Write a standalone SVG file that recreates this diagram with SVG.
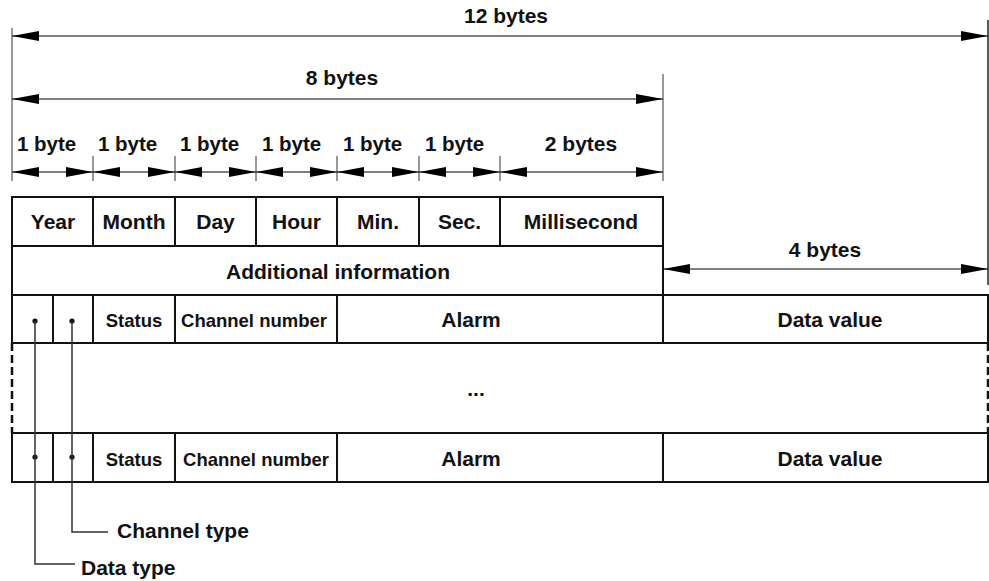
<svg xmlns="http://www.w3.org/2000/svg" width="989" height="581" viewBox="0 0 989 581">
<defs>
<marker id="ah" viewBox="0 0 27 10" refX="27" refY="5" markerWidth="27" markerHeight="10" markerUnits="userSpaceOnUse" orient="auto-start-reverse">
<path d="M0,0 L27,5 L0,10 z" fill="#000"/>
</marker>
</defs>
<style>
text{font-family:"Liberation Sans",Arial,sans-serif;font-weight:bold;fill:#111;}
.t20{font-size:21px;text-anchor:middle;}
.t18{font-size:18.5px;text-anchor:middle;}
.lbl{font-size:20.5px;}
.cell{fill:#fff;stroke:#111;stroke-width:2;}
.dim{stroke:#000;stroke-width:1.2;fill:none;marker-start:url(#ah);marker-end:url(#ah);}
.ext{stroke:#777;stroke-width:1.5;}
.tick{stroke:#333;stroke-width:1;}
.lead{stroke:#333;stroke-width:1.5;fill:none;}
.dash{stroke:#111;stroke-width:2.5;stroke-dasharray:8,4;}
</style>
<rect width="989" height="581" fill="#fff"/>

<g id="labels-dim">
<text class="t20" x="506" y="23">12 bytes</text>
<text class="t20" x="342" y="85">8 bytes</text>
<text class="lbl" x="17" y="151">1 byte</text>
<text class="lbl" x="98" y="151">1 byte</text>
<text class="lbl" x="180" y="151">1 byte</text>
<text class="lbl" x="262" y="151">1 byte</text>
<text class="lbl" x="343" y="151">1 byte</text>
<text class="lbl" x="425" y="151">1 byte</text>
<text class="t20" x="581" y="151">2 bytes</text>
<text class="t20" x="825" y="257">4 bytes</text>
</g>

<g id="row-time">
<g id="cell-year"><rect class="cell" x="12" y="197" width="81" height="49"/><text class="t20" x="53" y="229">Year</text></g>
<g id="cell-month"><rect class="cell" x="93" y="197" width="82" height="49"/><text class="t20" x="134" y="229">Month</text></g>
<g id="cell-day"><rect class="cell" x="175" y="197" width="81" height="49"/><text class="t20" x="215.5" y="229">Day</text></g>
<g id="cell-hour"><rect class="cell" x="256" y="197" width="81" height="49"/><text class="t20" x="296.5" y="229">Hour</text></g>
<g id="cell-min"><rect class="cell" x="337" y="197" width="82" height="49"/><text class="t20" x="378" y="229">Min.</text></g>
<g id="cell-sec"><rect class="cell" x="419" y="197" width="81" height="49"/><text class="t20" x="459.5" y="229">Sec.</text></g>
<g id="cell-ms"><rect class="cell" x="500" y="197" width="163" height="49"/><text class="t20" x="581" y="229">Millisecond</text></g>
</g>

<g id="cell-additional"><rect class="cell" x="12" y="246" width="651" height="49"/><text class="t20" x="338" y="279">Additional information</text></g>

<g id="row-first">
<g id="cell-dt1"><rect class="cell" x="12" y="295" width="41" height="48"/><circle cx="35" cy="321" r="2.6" fill="#111"/></g>
<g id="cell-ct1"><rect class="cell" x="53" y="295" width="40" height="48"/><circle cx="72" cy="321" r="2.6" fill="#111"/></g>
<g id="cell-status1"><rect class="cell" x="93" y="295" width="82" height="48"/><text class="t18" x="134" y="327">Status</text></g>
<g id="cell-chnum1"><rect class="cell" x="175" y="295" width="162" height="48"/><text class="t18" x="254" y="327">Channel number</text></g>
<g id="cell-alarm1"><rect class="cell" x="337" y="295" width="326" height="48"/><text class="t20" x="471" y="327">Alarm</text></g>
<g id="cell-data1"><rect class="cell" x="663" y="295" width="325" height="48"/><text class="t20" x="830" y="327">Data value</text></g>
</g>

<g id="row-ellipsis">
<line class="dash" x1="12" y1="343" x2="12" y2="433"/>
<line class="dash" x1="988" y1="343" x2="988" y2="433"/>
<text class="t20" x="476" y="396">...</text>
</g>

<g id="row-last">
<g id="cell-dt2"><rect class="cell" x="12" y="433" width="41" height="49"/><circle cx="35" cy="457" r="2.6" fill="#111"/></g>
<g id="cell-ct2"><rect class="cell" x="53" y="433" width="40" height="49"/><circle cx="72" cy="457" r="2.6" fill="#111"/></g>
<g id="cell-status2"><rect class="cell" x="93" y="433" width="82" height="49"/><text class="t18" x="134" y="466">Status</text></g>
<g id="cell-chnum2"><rect class="cell" x="175" y="433" width="162" height="49"/><text class="t18" x="256" y="466">Channel number</text></g>
<g id="cell-alarm2"><rect class="cell" x="337" y="433" width="326" height="49"/><text class="t20" x="471" y="466">Alarm</text></g>
<g id="cell-data2"><rect class="cell" x="663" y="433" width="325" height="49"/><text class="t20" x="830" y="466">Data value</text></g>
</g>

<g id="callout-labels">
<text class="lbl" x="117" y="538" style="font-size:21px">Channel type</text>
<text class="lbl" x="81" y="575" style="font-size:21px">Data type</text>
</g>

<g id="connectors">
<line class="ext" x1="12" y1="28" x2="12" y2="181"/>
<line class="ext" x1="663" y1="74" x2="663" y2="181"/>
<line x1="988" y1="20" x2="988" y2="285" stroke="#222" stroke-width="1.5"/>
<line class="tick" x1="93" y1="156" x2="93" y2="181"/>
<line class="tick" x1="175" y1="156" x2="175" y2="181"/>
<line class="tick" x1="256" y1="156" x2="256" y2="181"/>
<line class="tick" x1="337" y1="156" x2="337" y2="181"/>
<line class="tick" x1="419" y1="156" x2="419" y2="181"/>
<line class="tick" x1="500" y1="156" x2="500" y2="181"/>
<line class="dim" x1="12" y1="36" x2="988" y2="36"/>
<line class="dim" x1="12" y1="99" x2="663" y2="99"/>
<line class="dim" x1="12" y1="172" x2="93" y2="172"/>
<line class="dim" x1="93" y1="172" x2="175" y2="172"/>
<line class="dim" x1="175" y1="172" x2="256" y2="172"/>
<line class="dim" x1="256" y1="172" x2="337" y2="172"/>
<line class="dim" x1="337" y1="172" x2="419" y2="172"/>
<line class="dim" x1="419" y1="172" x2="500" y2="172"/>
<line class="dim" x1="500" y1="172" x2="663" y2="172"/>
<line class="dim" x1="663" y1="269" x2="988" y2="269"/>
<polyline class="lead" points="35,321 35,564 75,564"/>
<polyline class="lead" points="72,321 72,532 108,532"/>
</g>
</svg>
